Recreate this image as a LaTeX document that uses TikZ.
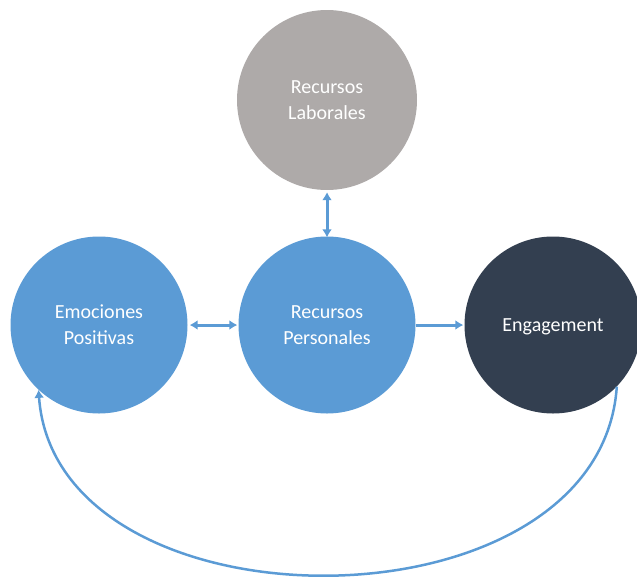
\documentclass[tikz,border=0pt]{standalone}
\usepackage{fontspec}
\setmainfont{Carlito}
\usetikzlibrary{arrows.meta}
\definecolor{cblue}{HTML}{5B9BD5}
\definecolor{cgray}{HTML}{AEAAA9}
\definecolor{cdark}{HTML}{333F50}
\begin{document}
\begin{tikzpicture}[x=1pt,y=-1pt,
  bubble/.style={circle,minimum size=177pt,inner sep=0pt,text=white,align=center,
    font=\fontsize{20}{26}\selectfont,text depth=0pt},
  link/.style={draw=cblue,line width=3pt,{Latex[length=8pt,width=10pt]}-{Latex[length=8pt,width=10pt]}},
  onelink/.style={draw=cblue,line width=3pt,-{Latex[length=8pt,width=10pt]}}]
\useasboundingbox (0,0) rectangle (637,576);
\begin{scope}
\clip (0,0) rectangle (637,576);
\node[bubble,fill=cgray,minimum size=180pt] (lab) at (327,100) {Recursos\\Laborales};
\node[bubble,fill=cblue] (per) at (327,325) {Recursos\\Personales};
\node[bubble,fill=cblue] (emo) at (99,325) {Emociones\\Positivas};
\node[bubble,fill=cdark] (eng) at (553,325) {Engagement};
\end{scope}
\draw[link] (lab.south) ++(0,2) -- ([yshift=-1pt]per.north);
\draw[link] ([xshift=2pt]emo.east) -- ([xshift=-1pt]per.west);
\draw[onelink] (per.east) -- ([xshift=-1pt]eng.west);
\draw[onelink,line width=2.5pt] (eng.-44) .. controls (600,637) and (56,637) .. (emo.-133);
\end{tikzpicture}
\end{document}
